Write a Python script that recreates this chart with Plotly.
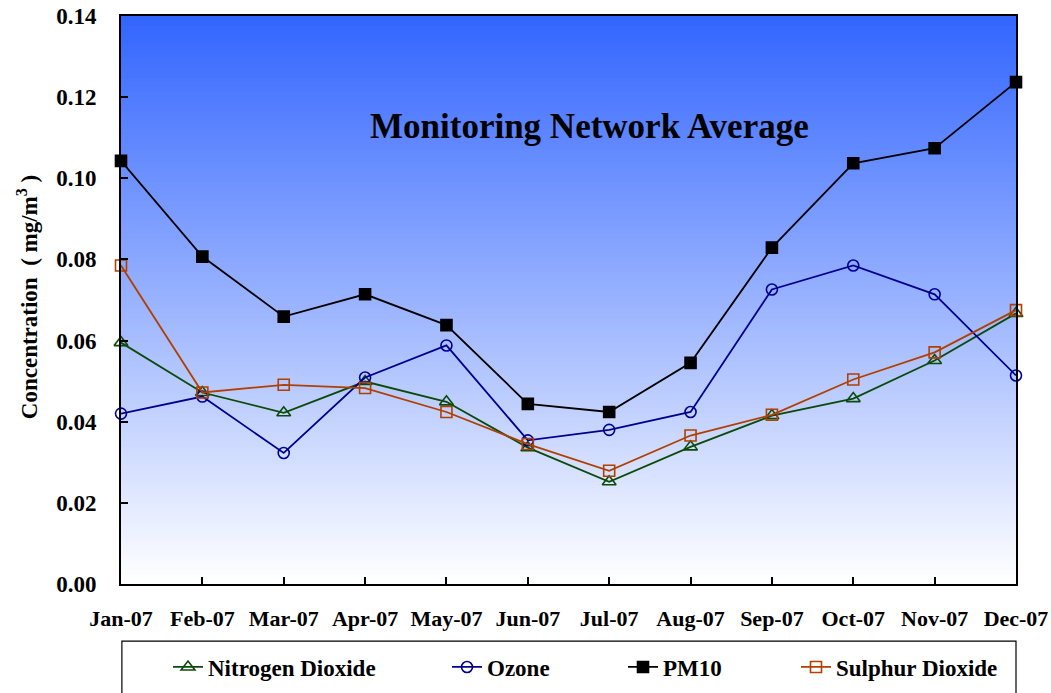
import plotly.graph_objects as go

months = ["Jan-07", "Feb-07", "Mar-07", "Apr-07", "May-07", "Jun-07",
          "Jul-07", "Aug-07", "Sep-07", "Oct-07", "Nov-07", "Dec-07"]

no2 = [0.0595, 0.0472, 0.0422, 0.0499, 0.0449, 0.0336, 0.0252, 0.0338, 0.0415, 0.0457, 0.0551, 0.0667]
ozone = [0.0420, 0.0462, 0.0323, 0.0509, 0.0588, 0.0354, 0.0380, 0.0424, 0.0726, 0.0785, 0.0714, 0.0514]
pm10 = [0.1043, 0.0807, 0.0659, 0.0714, 0.0638, 0.0444, 0.0424, 0.0545, 0.0829, 0.1037, 0.1074, 0.1237]
so2 = [0.0785, 0.0472, 0.0491, 0.0483, 0.0424, 0.0345, 0.0279, 0.0366, 0.0417, 0.0504, 0.0571, 0.0675]

yticks = [0.00, 0.02, 0.04, 0.06, 0.08, 0.10, 0.12, 0.14]

FONT = "Liberation Serif"

series = [
    ("Nitrogen Dioxide", no2, "#0b4a0b", "triangle-up-open", 12, "legend"),
    ("Ozone", ozone, "#000090", "circle-open", 11, "legend2"),
    ("PM10", pm10, "#000000", "square", 11, "legend3"),
    ("Sulphur Dioxide", so2, "#b04000", "square-open", 11, "legend4"),
]

fig = go.Figure()

# vertical gradient background (blue at top to white at bottom)
n = 120
top = (51, 102, 255)
bot = (255, 255, 255)
for i in range(n):
    t = i / (n - 1)
    c = tuple(int(round(top[k] + (bot[k] - top[k]) * t)) for k in range(3))
    y1 = 1 - i / n
    y0 = 1 - (i + 1) / n - 0.002
    fig.add_shape(type="rect", xref="x domain", yref="y domain",
                  x0=0, x1=1, y0=max(y0, 0), y1=y1, layer="below",
                  line=dict(width=0), fillcolor="rgb(%d,%d,%d)" % c)

for name, vals, col, sym, size, lg in series:
    fig.add_trace(go.Scatter(
        x=months, y=vals, name=name, mode="lines+markers",
        line=dict(color=col, width=1.8),
        marker=dict(symbol=sym, size=size, color=col, line=dict(color=col, width=1.6)),
        cliponaxis=False, legend=lg, showlegend=True))

# legend frame
fig.add_shape(type="rect", xref="paper", yref="paper", x0=0.001, x1=1.0,
              y0=-0.25, y1=-0.1004, line=dict(color="black", width=1.2),
              fillcolor="white", layer="below")

fig.add_annotation(text="Monitoring Network Average", xref="paper", yref="paper",
                   x=0.523, y=0.8046, xanchor="center", yanchor="middle",
                   showarrow=False,
                   font=dict(family=FONT, size=35, color="black", weight="bold"))

# y-axis title
fig.add_annotation(text="Concentration  ( mg/m<sup>3</sup> )", xref="paper", yref="paper",
                   x=-0.105, y=0.505, xanchor="center", yanchor="middle",
                   textangle=-90, showarrow=False,
                   font=dict(family=FONT, size=23, color="black", weight="bold"))

W, H = 1051, 693
leg_common = dict(orientation="h", xref="container", yref="container",
                  y=1 - 667 / H, yanchor="middle", xanchor="left",
                  bgcolor="rgba(0,0,0,0)", visible=True,
                  font=dict(family=FONT, size=23, color="black", weight="bold"))
legx = [168 / W, 447 / W, 623 / W, 796 / W]

fig.update_layout(
    width=W, height=H,
    margin=dict(l=121, r=35, t=16, b=109, autoexpand=False),
    paper_bgcolor="white", plot_bgcolor="white", showlegend=True,
    font=dict(family=FONT, size=22, color="black", weight="bold"),
    legend=dict(x=legx[0], **leg_common),
    legend2=dict(x=legx[1], **leg_common),
    legend3=dict(x=legx[2], **leg_common),
    legend4=dict(x=legx[3], **leg_common),
    xaxis=dict(type="category", range=[0, 11], showgrid=False, zeroline=False,
               showline=True, linecolor="black", linewidth=2, mirror=True,
               ticks="inside", ticklen=7, tickcolor="black", tickwidth=1.5,
               ticklabelstandoff=14, automargin=False, ticklabeloverflow="allow",
               tickfont=dict(family=FONT, size=22, color="black", weight="bold")),
    yaxis=dict(range=[0, 0.14], tickvals=yticks, tickformat=".2f", showgrid=False,
               zeroline=False, showline=True, linecolor="black", linewidth=2,
               mirror=True, ticks="inside", ticklen=7, tickcolor="black",
               tickwidth=1.5, ticklabelstandoff=18, automargin=False,
               ticklabeloverflow="allow",
               tickfont=dict(family=FONT, size=23, color="black", weight="bold")),
)

# remove the browser's default page margin so the figure fills the window exactly
fig.write_html("out.html", config={"displayModeBar": False},
               post_script="document.body.style.margin='0';document.body.style.overflow='hidden';")
